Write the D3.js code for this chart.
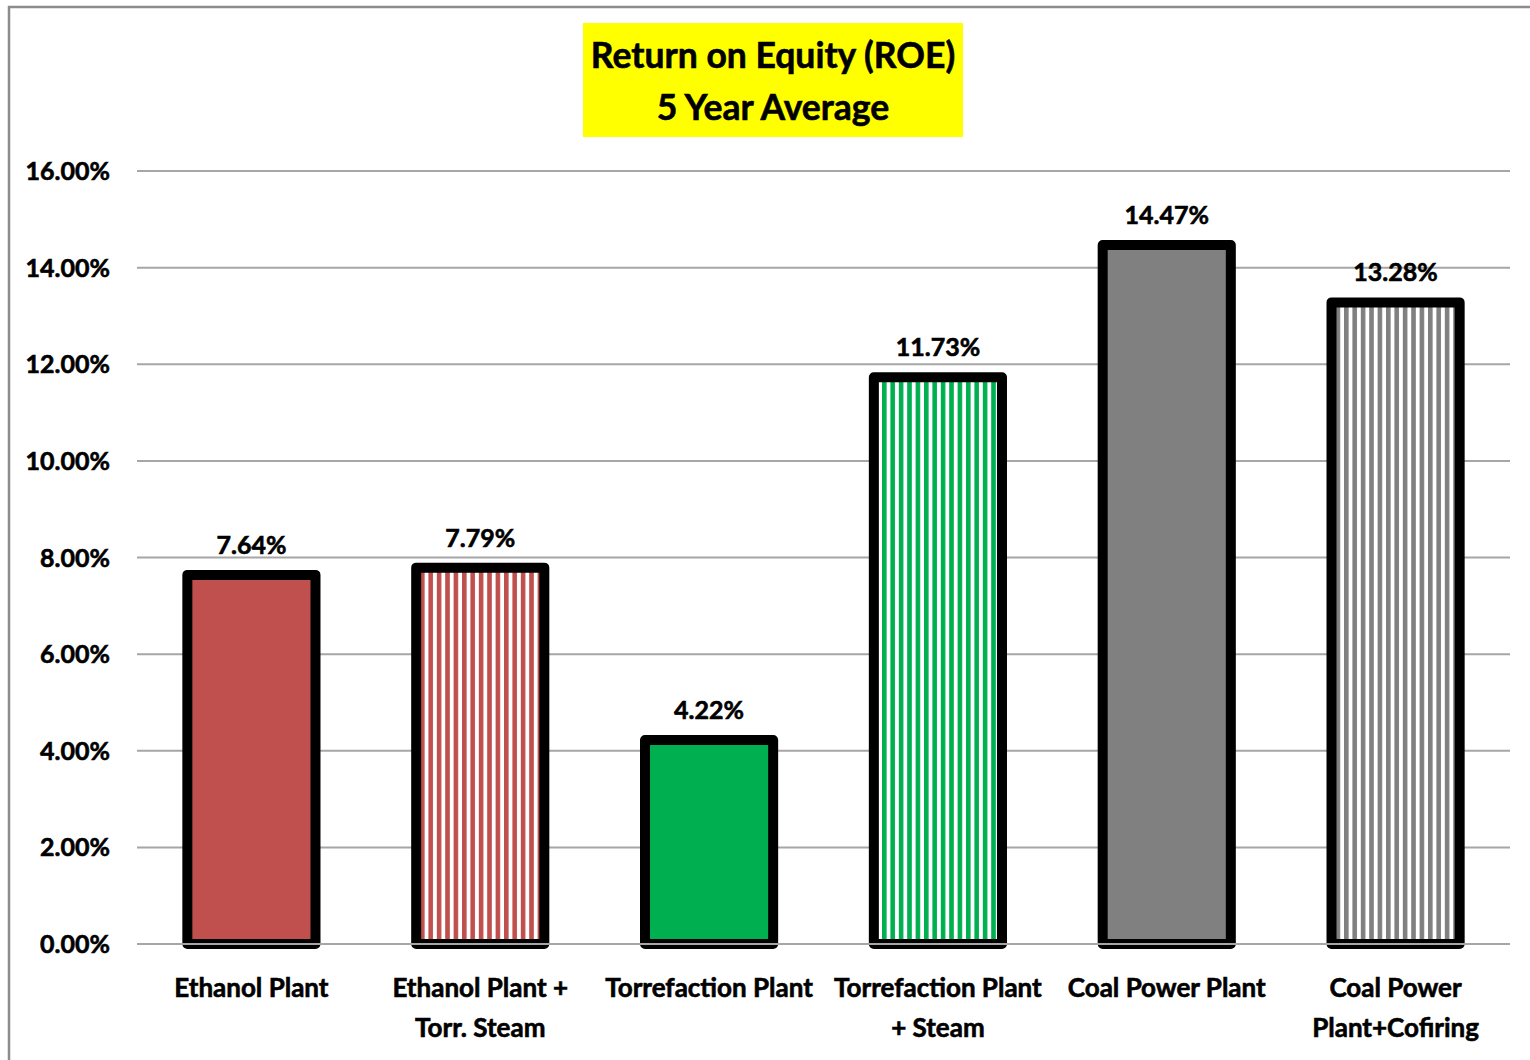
<!DOCTYPE html>
<html>
<head>
<meta charset="utf-8">
<script src="https://cdn.jsdelivr.net/npm/d3@7"></script>
<style>
  body { margin: 0; background: #fff; }
  svg { display: block; }
  text { font-family: Lato, "Open Sans", sans-serif; font-weight: bold; stroke: #000; stroke-width: 0.6px; }
</style>
</head>
<body>
<svg id="chart" width="1530" height="1060"></svg>
<script>
// chart data
var categories = [
  ["Ethanol Plant"],
  ["Ethanol Plant +", "Torr. Steam"],
  ["Torrefaction Plant"],
  ["Torrefaction Plant", "+ Steam"],
  ["Coal Power Plant"],
  ["Coal Power", "Plant+Cofiring"]
];
var values = [7.64, 7.79, 4.22, 11.73, 14.47, 13.28];
var fills = ["#C0504D", "stripe-red", "#00B050", "stripe-green", "#808080", "stripe-gray"];
var yTicks = [0, 2, 4, 6, 8, 10, 12, 14, 16];
var titleLines = ["Return on Equity (ROE)", "5 Year Average"];

var attrs = {
  width: 1530, height: 1060,
  left: 137, right: 1510, top: 171, bottom: 944
};

var svg = d3.select('#chart');

// frame
svg.append('path')
  .attr('d', 'M9,1060 V7 H1530')
  .attr('fill', 'none').attr('stroke', '#8c8c8c').attr('stroke-width', 2.5);

// stripe patterns
var defs = svg.append('defs');
[["stripe-red", "#C0504D"], ["stripe-green", "#00B050"], ["stripe-gray", "#808080"]].forEach(function (p) {
  var pat = defs.append('pattern')
    .attr('id', p[0]).attr('patternUnits', 'userSpaceOnUse')
    .attr('width', 8.4).attr('height', 10);
  pat.append('rect').attr('width', 8.4).attr('height', 10).attr('fill', '#fff');
  pat.append('rect').attr('width', 4.6).attr('height', 10).attr('fill', p[1]);
});

var x = d3.scaleBand()
  .domain(d3.range(categories.length))
  .range([attrs.left, attrs.right]);

var y = d3.scaleLinear()
  .domain([0, 16])
  .range([attrs.bottom, attrs.top]);

// gridlines
svg.append('g').selectAll('line')
  .data(yTicks).enter().append('line')
  .attr('x1', attrs.left).attr('x2', attrs.right)
  .attr('y1', d => y(d)).attr('y2', d => y(d))
  .attr('stroke', '#a6a6a6').attr('stroke-width', 2);

// y tick labels
svg.append('g').selectAll('text')
  .data(yTicks).enter().append('text')
  .attr('x', 110).attr('y', d => y(d)).attr('dy', '0.36em')
  .attr('text-anchor', 'end').attr('font-size', 25).attr('fill', '#000')
  .text(d => d3.format('.2f')(d) + '%');

// bars
var barW = x.bandwidth() * 0.56;
svg.append('g').selectAll('rect')
  .data(values).enter().append('rect')
  .attr('x', (d, i) => x(i) + (x.bandwidth() - barW) / 2)
  .attr('width', barW)
  .attr('y', d => y(d))
  .attr('height', d => y(0) - y(d))
  .attr('fill', (d, i) => fills[i].indexOf('stripe') === 0 ? 'url(#' + fills[i] + ')' : fills[i])
  .attr('stroke', '#000').attr('stroke-width', 10)
  .attr('stroke-linejoin', 'round');

// axis line over the bar bottoms
svg.append('line')
  .attr('x1', attrs.left).attr('x2', attrs.right)
  .attr('y1', y(0)).attr('y2', y(0))
  .attr('stroke', '#a6a6a6').attr('stroke-width', 2);

// data labels
svg.append('g').selectAll('text')
  .data(values).enter().append('text')
  .attr('x', (d, i) => x(i) + x.bandwidth() / 2)
  .attr('y', d => y(d) - 21)
  .attr('text-anchor', 'middle').attr('font-size', 25).attr('fill', '#000')
  .text(d => d3.format('.2f')(d) + '%');

// category labels
var cat = svg.append('g').selectAll('text')
  .data(categories).enter().append('text')
  .attr('x', (d, i) => x(i) + x.bandwidth() / 2)
  .attr('y', 997)
  .attr('text-anchor', 'middle').attr('font-size', 26).attr('fill', '#000');
cat.selectAll('tspan')
  .data(d => d).enter().append('tspan')
  .attr('x', function () { return d3.select(this.parentNode).attr('x'); })
  .attr('dy', (d, i) => i === 0 ? 0 : 40)
  .text(d => d);

// title
svg.append('rect')
  .attr('x', 583).attr('y', 23).attr('width', 380).attr('height', 114)
  .attr('fill', '#ffff00');
svg.append('g').selectAll('text')
  .data(titleLines).enter().append('text')
  .attr('x', 773).attr('y', (d, i) => 68 + i * 52)
  .attr('text-anchor', 'middle').attr('font-size', 35.5).attr('fill', '#000')
  .text(d => d);
</script>
</body>
</html>
